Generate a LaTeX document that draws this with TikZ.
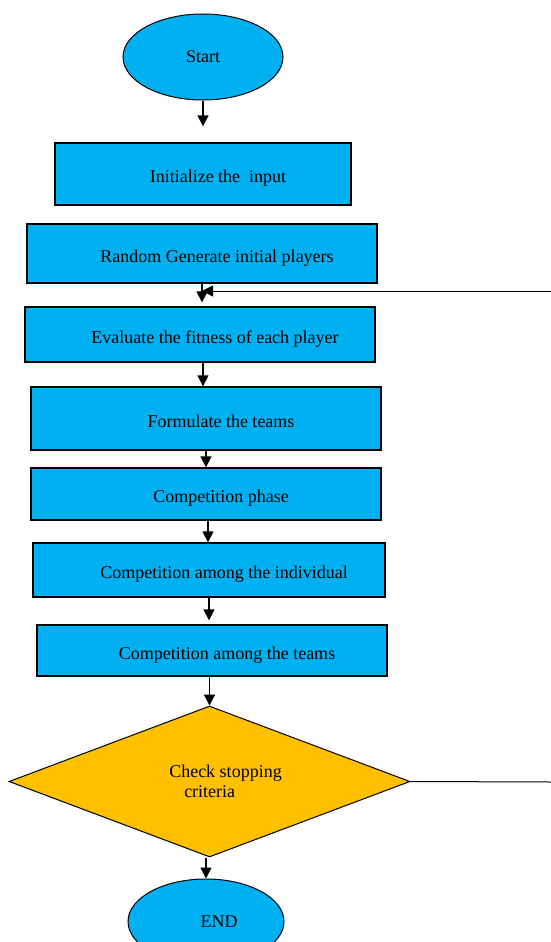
\documentclass[tikz,border=0pt]{standalone}
\usepackage{fontspec}
\setmainfont{Liberation Serif}
\usetikzlibrary{arrows.meta,shapes.geometric}
\definecolor{boxblue}{RGB}{0,176,240}
\definecolor{checkorange}{RGB}{255,192,0}

\begin{document}
\begin{tikzpicture}[x=1pt,y=-1pt]
\tikzstyle{every node}+=[font=\fontsize{18}{20}\selectfont]
\tikzstyle{terminal}=[ellipse, draw=black, line width=1pt, fill=boxblue, minimum width=160pt, minimum height=86pt, inner sep=0pt]
\tikzstyle{process}=[rectangle, draw=black, line width=1.3pt, fill=boxblue, minimum width=350pt, inner sep=0pt, text height=20pt, text depth=3pt, execute at begin node={\hspace*{30pt}}]
\tikzstyle{decision}=[diamond, draw=black, line width=1pt, fill=checkorange, minimum width=401pt, minimum height=151pt, shape aspect=2.6, inner sep=0pt, align=left]
\tikzstyle{flow}=[line width=1.3pt, -{Triangle[width=11pt,length=11pt]}]
\useasboundingbox (0,0) rectangle (551,942);
\node[terminal] (start) at (203,57) {Start};
\node[process, minimum width=296pt, minimum height=62pt] (init) at (203,174) {Initialize the~ input};
\node[process, minimum height=59pt] (random) at (202,253.5) {Random Generate initial players};
\node[process, minimum height=55pt] (evaluate) at (200,334.5) {Evaluate the fitness of each player};
\node[process, minimum height=63pt] (formulate) at (206,418.5) {Formulate the teams};
\node[process, minimum height=52pt] (phase) at (206,494) {Competition phase};
\node[process, minimum width=352pt, minimum height=54pt] (individual) at (209,570) {Competition among the individual};
\node[process, minimum height=51pt] (teams) at (212,650.5) {Competition among the teams};
\node[decision] (check) at (209.5,781.5) {\hspace*{32pt}Check stopping\\\hspace*{47pt}criteria};
\node[terminal, minimum width=156pt, minimum height=85pt] (end) at (206,921.5) {\hspace*{26pt}END};
\coordinate (loopback) at (551,291);
\coordinate (loopexit) at (551,782);
\draw[flow, shorten >=16pt] (start.south) -- (start.south |- init.north);
\draw[flow, shorten >=4pt] (random.south) -- (random.south |- evaluate.north);
\draw[flow] (formulate.north |- evaluate.south) ++(-3,0) -- ([xshift=-3pt]formulate.north);
\draw[flow] (formulate.south) -- (formulate.south |- phase.north);
\draw[flow] ([xshift=2pt]phase.south) -- ([xshift=2pt]phase.south |- individual.north);
\draw[flow, shorten >=4pt] (individual.south) -- (individual.south |- teams.north);
\draw[flow] (check.north |- teams.south) -- (check.north);
\draw[flow] (end.north |- check.south) -- (end.north);
\draw[line width=1pt] (check.east) -- (loopexit);
\draw[line width=1pt, -{Triangle[width=11pt,length=11pt]}] (loopback) -- (random.south |- loopback);
\end{tikzpicture}
\end{document}
